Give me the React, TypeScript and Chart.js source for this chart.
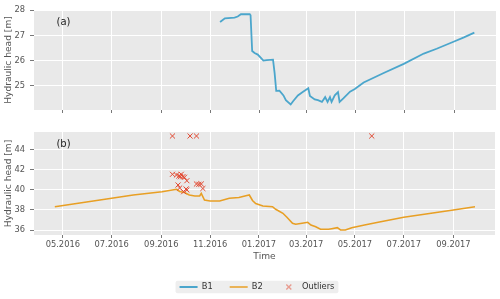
import React, { useEffect, useRef } from 'react';
import { Chart, registerables } from 'chart.js';

Chart.register(...registerables);

// ---------- data ----------
const xTickLabels = ['05.2016', '07.2016', '09.2016', '11.2016', '01.2017', '03.2017', '05.2017', '07.2017', '09.2017'];
const xMinDate = '2016-03-26';
const xMaxDate = '2017-10-23';
const topTickValues = [25, 26, 27, 28];
const bottomTickValues = [36, 38, 40, 42, 44];

const b1Dates = [
  '2016-11-13', '2016-11-19', '2016-12-01', '2016-12-05', '2016-12-09', '2016-12-20', '2016-12-21', '2016-12-23',
  '2016-12-26', '2016-12-30', '2017-01-06', '2017-01-10', '2017-01-18', '2017-01-20', '2017-01-22', '2017-01-26',
  '2017-01-31', '2017-02-03', '2017-02-09', '2017-02-12', '2017-02-18', '2017-02-24', '2017-03-03', '2017-03-05',
  '2017-03-11', '2017-03-15', '2017-03-20', '2017-03-24', '2017-03-27', '2017-03-30', '2017-04-01', '2017-04-05',
  '2017-04-09', '2017-04-11', '2017-04-16', '2017-04-24', '2017-04-30', '2017-05-11', '2017-06-05', '2017-06-30',
  '2017-07-25', '2017-08-10', '2017-08-31', '2017-09-13', '2017-09-26',
];
const b1Values = [
  27.53, 27.68, 27.71, 27.75, 27.84, 27.84, 27.8, 26.38,
  26.3, 26.24, 26.0, 26.02, 26.04, 25.5, 24.8, 24.81,
  24.62, 24.43, 24.26, 24.39, 24.62, 24.75, 24.9, 24.6,
  24.46, 24.43, 24.36, 24.55, 24.36, 24.55, 24.36, 24.62,
  24.75, 24.36, 24.51, 24.77, 24.87, 25.13, 25.51, 25.87,
  26.28, 26.47, 26.75, 26.92, 27.11,
];

const b2Dates = [
  '2016-04-21', '2016-07-01', '2016-07-28', '2016-09-02', '2016-09-20', '2016-09-24', '2016-09-30', '2016-10-06',
  '2016-10-13', '2016-10-19', '2016-10-21', '2016-10-25', '2016-11-01', '2016-11-13', '2016-11-25', '2016-12-07',
  '2016-12-17', '2016-12-20', '2016-12-24', '2016-12-28', '2017-01-06', '2017-01-18', '2017-01-22', '2017-01-31',
  '2017-02-05', '2017-02-12', '2017-02-16', '2017-02-24', '2017-03-03', '2017-03-07', '2017-03-13', '2017-03-19',
  '2017-03-29', '2017-04-02', '2017-04-09', '2017-04-13', '2017-04-19', '2017-04-27', '2017-05-13', '2017-05-30',
  '2017-07-01', '2017-09-01', '2017-09-28',
];
const b2Values = [
  38.33, 39.17, 39.5, 39.83, 40.07, 39.85, 39.75, 39.5,
  39.4, 39.4, 39.65, 39.0, 38.9, 38.9, 39.17, 39.25,
  39.45, 39.5, 38.95, 38.65, 38.4, 38.33, 38.07, 37.67,
  37.27, 36.67, 36.57, 36.67, 36.77, 36.5, 36.33, 36.07,
  36.07, 36.13, 36.23, 36.0, 36.0, 36.23, 36.5, 36.77,
  37.27, 38.0, 38.33,
];

const outlierDates = [
  '2016-09-15', '2016-10-07', '2016-10-15', '2017-05-22',
  '2016-09-15', '2016-09-20', '2016-09-23', '2016-09-25', '2016-09-26', '2016-09-28', '2016-09-30', '2016-10-03',
  '2016-09-22', '2016-09-24', '2016-09-29', '2016-10-02', '2016-10-03',
  '2016-10-15', '2016-10-18', '2016-10-21', '2016-10-23',
];
const outlierValues = [
  45.4, 45.4, 45.4, 45.4,
  41.57, 41.5, 41.4, 41.33, 41.57, 41.33, 41.27, 40.93,
  40.5, 40.2, 39.83, 40.1, 40.0,
  40.6, 40.57, 40.6, 40.15,
];

// ---------- styles ----------
const FONT = 'DejaVu Sans';
const BLUE = '#4ba6cc';
const ORANGE = '#e89f24';
const RED = '#e24a33';
const PANEL = '#e9e9e9';
const TICK_GRAY = '#555555';

const toMs = (s: string) => {
  const [y, m, d] = s.split('-').map(Number);
  return Date.UTC(y, m - 1, d);
};
const tickMs = xTickLabels.map((l) => {
  const [m, y] = l.split('.').map(Number);
  return Date.UTC(y, m - 1, 1);
});
const pts = (dates: string[], vals: number[]) => dates.map((d, i) => ({ x: toMs(d), y: vals[i] }));

const bgPlugin = {
  id: 'panelBg',
  beforeDraw(chart: any) {
    const { ctx, chartArea } = chart;
    ctx.save();
    ctx.fillStyle = PANEL;
    ctx.fillRect(chartArea.left, chartArea.top, chartArea.right - chartArea.left, chartArea.bottom - chartArea.top);
    const lg = chart.legend;
    if (lg && lg.options && lg.options.display && lg.legendHitBoxes && lg.legendHitBoxes.length) {
      const hb = lg.legendHitBoxes;
      const first = hb[0];
      const last = hb[hb.length - 1];
      const cy = first.top + first.height / 2;
      const x0 = first.left - 4;
      const w = last.left + last.width - first.left + 8;
      ctx.fillStyle = '#eeeeee';
      ctx.beginPath();
      (ctx as any).roundRect(x0, cy - 6.3, w, 12.6, 2);
      ctx.fill();
    }
    ctx.restore();
  },
};

const panelLabelPlugin = {
  id: 'panelLabel',
  afterDatasetsDraw(chart: any, _args: any, opts: any) {
    const { ctx, chartArea } = chart;
    ctx.save();
    ctx.font = `10px "${FONT}"`;
    ctx.fillStyle = '#222222';
    ctx.textAlign = 'center';
    ctx.textBaseline = 'middle';
    ctx.fillText(opts.text, chartArea.left + 29.5, chartArea.top + 12.3);
    ctx.restore();
  },
};

const legendShiftPlugin = {
  id: 'legendShift',
  afterLayout(chart: any) {
    const lg = chart.legend;
    if (lg) {
      lg.left += 9;
      lg.right += 9;
    }
  },
};

function makeCross(color: string) {
  const c = document.createElement('canvas');
  c.width = 7;
  c.height = 7;
  const g = c.getContext('2d')!;
  g.strokeStyle = color;
  g.lineWidth = 1;
  g.beginPath();
  g.moveTo(1, 1);
  g.lineTo(6, 6);
  g.moveTo(6, 1);
  g.lineTo(1, 6);
  g.stroke();
  return c;
}

const gridOpts = { color: '#ffffff', lineWidth: 1, tickLength: 4, tickColor: TICK_GRAY, tickWidth: 0.8 };

function xScale(showLabels: boolean, height: number) {
  return {
    type: 'linear',
    min: toMs(xMinDate),
    max: toMs(xMaxDate),
    afterBuildTicks: (s: any) => {
      s.ticks = tickMs.map((v) => ({ value: v }));
    },
    afterFit: (s: any) => {
      s.height = height;
    },
    ticks: {
      display: showLabels,
      autoSkip: false,
      maxRotation: 0,
      color: TICK_GRAY,
      font: { family: FONT, size: 8.3 },
      padding: 2,
      callback: (_v: any, i: number) => xTickLabels[i],
    },
    grid: { ...gridOpts, tickLength: 3 },
    border: { display: false },
    title: showLabels
      ? { display: true, text: 'Time', color: TICK_GRAY, font: { family: FONT, size: 9.1 }, padding: { top: 0, bottom: 3.4 } }
      : { display: false },
  };
}

function yScale(min: number, max: number, values: number[]) {
  return {
    min,
    max,
    afterBuildTicks: (s: any) => {
      s.ticks = values.map((v) => ({ value: v }));
    },
    afterFit: (s: any) => {
      s.width = 34;
    },
    ticks: {
      color: TICK_GRAY,
      font: { family: FONT, size: 8.3 },
      padding: 5,
      callback: (v: any) => String(v),
    },
    grid: gridOpts,
    border: { display: false },
    title: {
      display: true,
      text: 'Hydraulic head [m]',
      color: TICK_GRAY,
      font: { family: FONT, size: 9.1 },
      padding: { top: 3, bottom: 0 },
    },
  };
}

export default function App() {
  const topRef = useRef<HTMLCanvasElement>(null);
  const botRef = useRef<HTMLCanvasElement>(null);

  useEffect(() => {
    const cross = makeCross(RED);
    const top = new Chart(topRef.current!, {
      type: 'line',
      data: {
        datasets: [
          {
            label: 'B1',
            data: pts(b1Dates, b1Values),
            borderColor: BLUE,
            borderWidth: 1.8,
            pointRadius: 0,
            tension: 0,
          },
        ],
      },
      options: {
        responsive: false,
        animation: false,
        layout: { padding: { left: 0, right: 4, top: 7, bottom: 0 } },
        plugins: {
          legend: { display: false },
          tooltip: { enabled: false },
          panelLabel: { text: '(a)' },
        } as any,
        scales: {
          x: xScale(false, 10) as any,
          y: yScale(24.04, 28.01, topTickValues) as any,
        },
      },
      plugins: [bgPlugin, panelLabelPlugin],
    });

    const bottom = new Chart(botRef.current!, {
      type: 'line',
      data: {
        datasets: [
          {
            label: 'B1',
            data: [],
            borderColor: BLUE,
            borderWidth: 1.8,
            pointBorderWidth: 1.8,
            pointRadius: 0,
            pointStyle: 'line',
            order: 2,
          },
          {
            label: 'B2',
            data: pts(b2Dates, b2Values),
            borderColor: ORANGE,
            borderWidth: 1.6,
            pointBorderWidth: 1.6,
            pointRadius: 0,
            pointStyle: 'line',
            tension: 0,
            order: 1,
          },
          {
            type: 'scatter',
            label: 'Outliers',
            data: pts(outlierDates, outlierValues),
            borderColor: RED,
            backgroundColor: RED,
            pointStyle: 'crossRot',
            pointRadius: 3.6,
            pointBorderWidth: 1,
            borderWidth: 1,
            showLine: false,
            order: 0,
          } as any,
        ],
      },
      options: {
        responsive: false,
        animation: false,
        layout: { padding: { left: 0, right: 4, top: 12, bottom: 8.15 } },
        plugins: {
          legend: {
            display: true,
            position: 'bottom',
            maxHeight: 25,
            labels: {
              usePointStyle: true,
              pointStyleWidth: 18,
              boxHeight: 5,
              padding: 17,
              color: '#333333',
              font: { family: FONT, size: 8.3 },
              sort: (a: any, b: any) => a.datasetIndex - b.datasetIndex,
              generateLabels: (chart: any) => {
                const items = (Chart.defaults.plugins.legend.labels as any).generateLabels(chart);
                return items.map((it: any) => (it.text === 'Outliers' ? { ...it, pointStyle: cross } : it));
              },
            },
          },
          tooltip: { enabled: false },
          panelLabel: { text: '(b)' },
        } as any,
        scales: {
          x: xScale(true, 30.85) as any,
          y: yScale(35.5, 45.8, bottomTickValues) as any,
        },
      },
      plugins: [bgPlugin, panelLabelPlugin, legendShiftPlugin],
    });

    return () => {
      top.destroy();
      bottom.destroy();
    };
  }, []);

  return (
    <div style={{ position: 'fixed', left: 0, top: 0, width: 500, height: 299, background: '#ffffff', overflow: 'hidden' }}>
      <canvas ref={topRef} width={500} height={120} style={{ position: 'absolute', left: 0, top: 0, width: 500, height: 120 }} />
      <canvas ref={botRef} width={500} height={179} style={{ position: 'absolute', left: 0, top: 120, width: 500, height: 179 }} />
    </div>
  );
}
